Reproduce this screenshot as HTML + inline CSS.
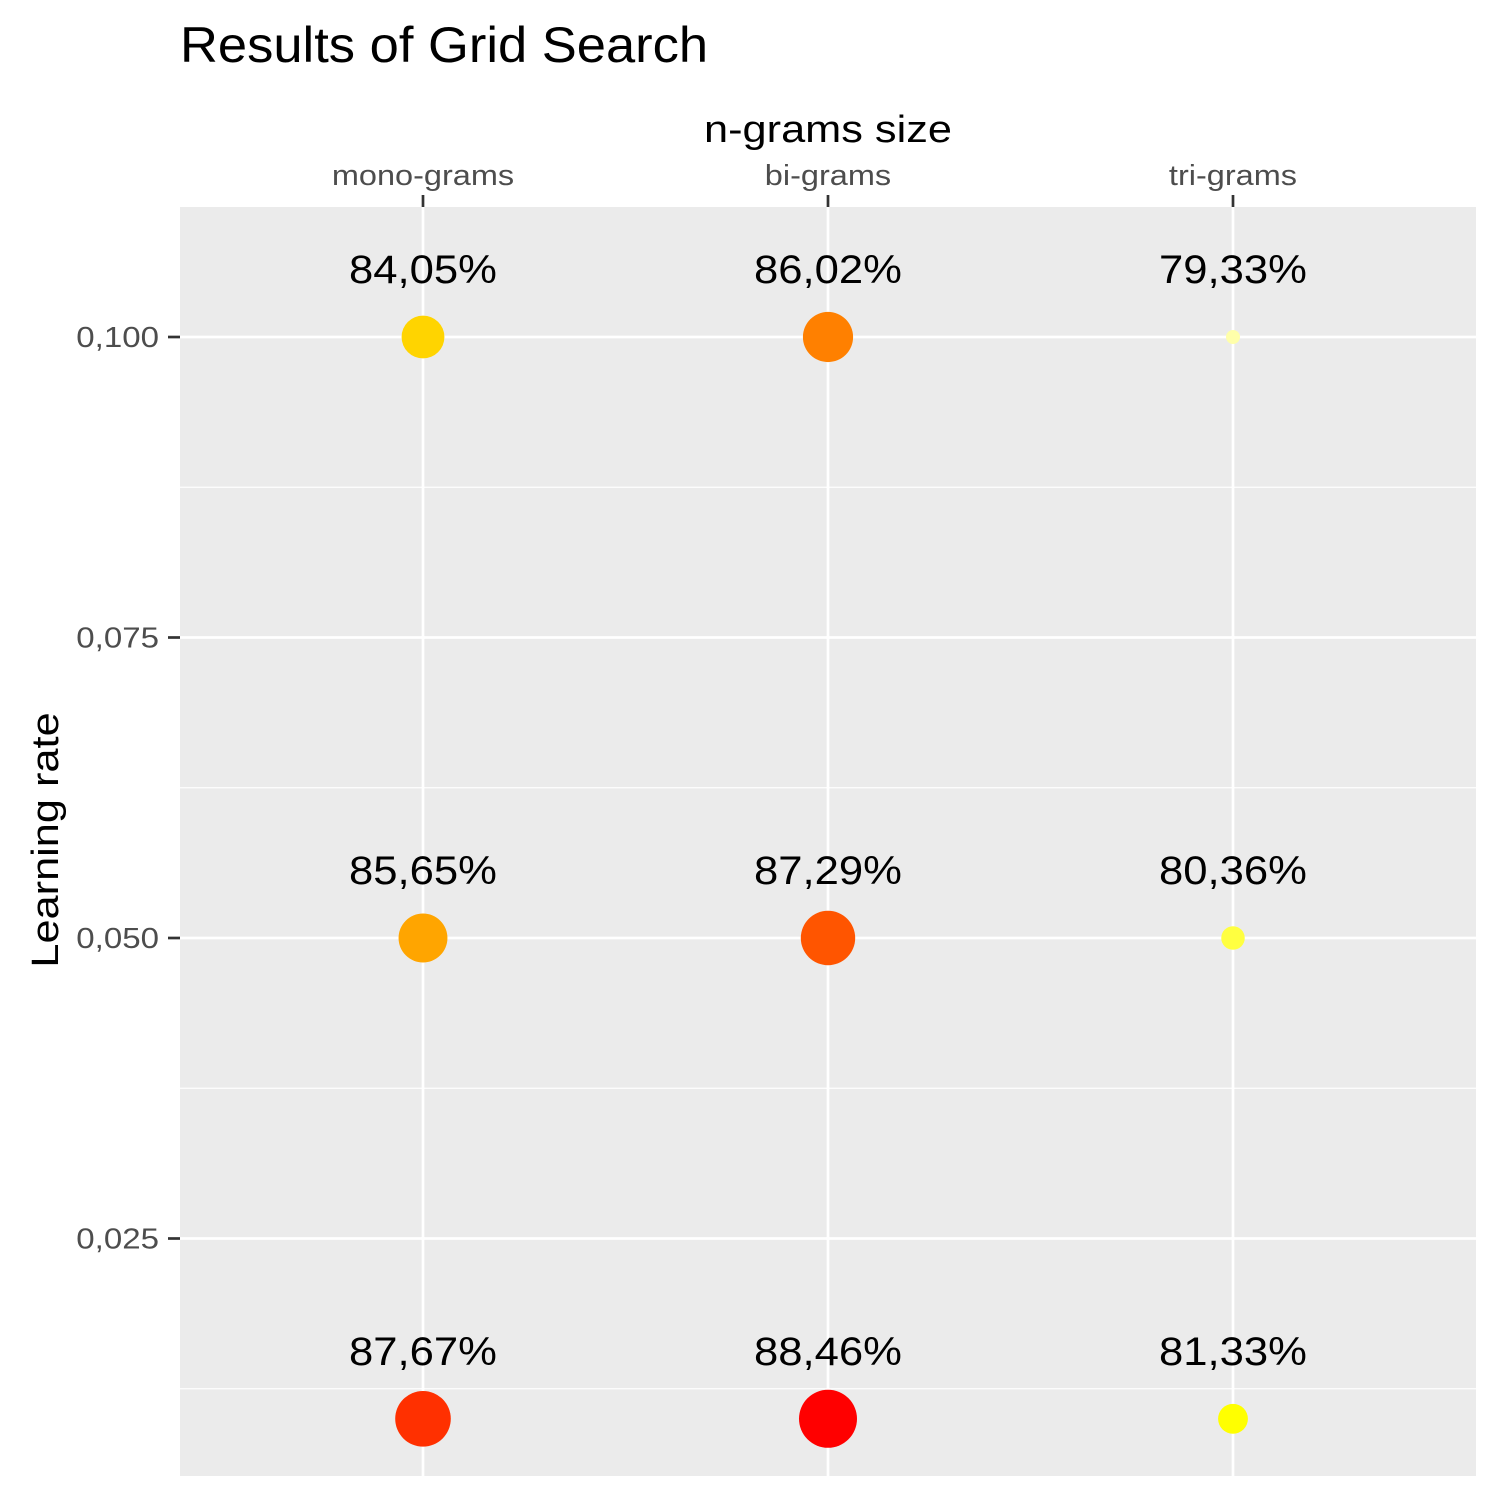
<!DOCTYPE html>
<html><head><meta charset="utf-8"><style>
html,body{margin:0;padding:0;background:#fff;}
svg{display:block;font-family:"Liberation Sans",Arial,sans-serif;}
</style></head><body>
<svg id="chart" width="1500" height="1500">
<rect x="0" y="0" width="1500" height="1500" fill="#fff"/>
<text class="st" data-f="1.05" x="180" y="62" font-size="50" fill="#000">Results of Grid Search</text>
<text class="st" data-f="1.14" x="828" y="142" font-size="38" text-anchor="middle" fill="#000">n-grams size</text>
<text class="st" data-f="1.14" transform="translate(58,840) rotate(-90)" font-size="38" text-anchor="middle" fill="#000">Learning rate</text>
<rect x="180" y="207" width="1296" height="1269" fill="#ebebeb"/>
<g id="grid"></g>
<g id="axes"></g>
<g id="marks"></g>
</svg>
<script>
const categories = ["mono-grams","bi-grams","tri-grams"];
const rates = [0.1, 0.05, 0.01];
const accMono = [84.05, 85.65, 87.67];
const accBi = [86.02, 87.29, 88.46];
const accTri = [79.33, 80.36, 81.33];
const yTicks = [0.1, 0.075, 0.05, 0.025];
const yTickLabels = ["0,100","0,075","0,050","0,025"];
const yMinor = [0.0875, 0.0625, 0.0375, 0.0125];

const NS = "http://www.w3.org/2000/svg";
function xPos(i){ return 423 + i*405; }
function yPos(v){ return 938 - (v - 0.05)*12020; }
const vMin = 79.33, vMax = 88.46;
function rad(v){ const t=(v-vMin)/(vMax-vMin); return Math.sqrt(49 + t*(841-49)); }
const cStops = [79.33,80.36,81.33,84.05,85.65,86.02,87.29,87.67,88.46];
const cCols = [[255,255,170],[255,255,64],[255,255,0],[255,212,0],[255,165,0],[255,128,0],[255,85,0],[255,48,0],[255,0,0]];
function color(v){
  for(let k=0;k<cStops.length-1;k++){
    if(v<=cStops[k+1]){
      const t=Math.max(0,(v-cStops[k])/(cStops[k+1]-cStops[k]));
      const c=cCols[k].map((a,j)=>Math.round(a+(cCols[k+1][j]-a)*t));
      return "rgb("+c.join(",")+")";
    }
  }
  return "rgb(255,0,0)";
}
function mk(tag, attrs, parent){ const e=document.createElementNS(NS,tag); for(const k in attrs) e.setAttribute(k,attrs[k]); parent.appendChild(e); return e; }
const grid=document.getElementById("grid"), axes=document.getElementById("axes"), marks=document.getElementById("marks");
yMinor.forEach(v=>{
  const l=mk("line",{x1:180,x2:1476,y1:yPos(v),y2:yPos(v),stroke:"#fff","stroke-width":1.3},grid);
  
  
});
yTicks.forEach((v,i)=>{
  const l=mk("line",{x1:180,x2:1476,y1:yPos(v),y2:yPos(v),stroke:"#fff","stroke-width":2.7},grid);
  
  
  const t=mk("line",{x1:168,x2:180,y1:yPos(v),y2:yPos(v),stroke:"#333","stroke-width":2.7},axes);
  
  
  const tx=mk("text",{x:159,y:yPos(v)+10,"font-size":29,fill:"#4d4d4d","text-anchor":"end","class":"st","data-f":"1.14"},axes);
  tx.textContent=yTickLabels[i];
  
  
});
categories.forEach((c,i)=>{
  const l=mk("line",{x1:xPos(i),x2:xPos(i),y1:207,y2:1476,stroke:"#fff","stroke-width":2.7},grid);
  
  
  const t=mk("line",{x1:xPos(i),x2:xPos(i),y1:195,y2:207,stroke:"#333","stroke-width":2.7},axes);
  
  
  const tx=mk("text",{x:xPos(i),y:185,"font-size":29,fill:"#4d4d4d","text-anchor":"middle","class":"st","data-f":"1.12"},axes);
  tx.textContent=c;
  
  
});
const series=[accMono,accBi,accTri];
series.forEach((arr,i)=>{
  arr.forEach((v,j)=>{
    const x=xPos(i), y=yPos(rates[j]);
    const c=mk("circle",{cx:x,cy:y,r:rad(v),fill:color(v)},marks);
    
    
    const t=mk("text",{x:x,y:y-54,"font-size":40,fill:"#000","text-anchor":"middle","class":"st","data-f":"1.09"},marks);
    t.textContent=v.toFixed(2).replace(".",",")+"%";
    
    
  });
});
document.querySelectorAll("text.st").forEach(t=>{
  const w=t.getComputedTextLength()*parseFloat(t.getAttribute("data-f"));
  t.setAttribute("textLength",w.toFixed(1));
  t.setAttribute("lengthAdjust","spacingAndGlyphs");
});
</script>
</body></html>
